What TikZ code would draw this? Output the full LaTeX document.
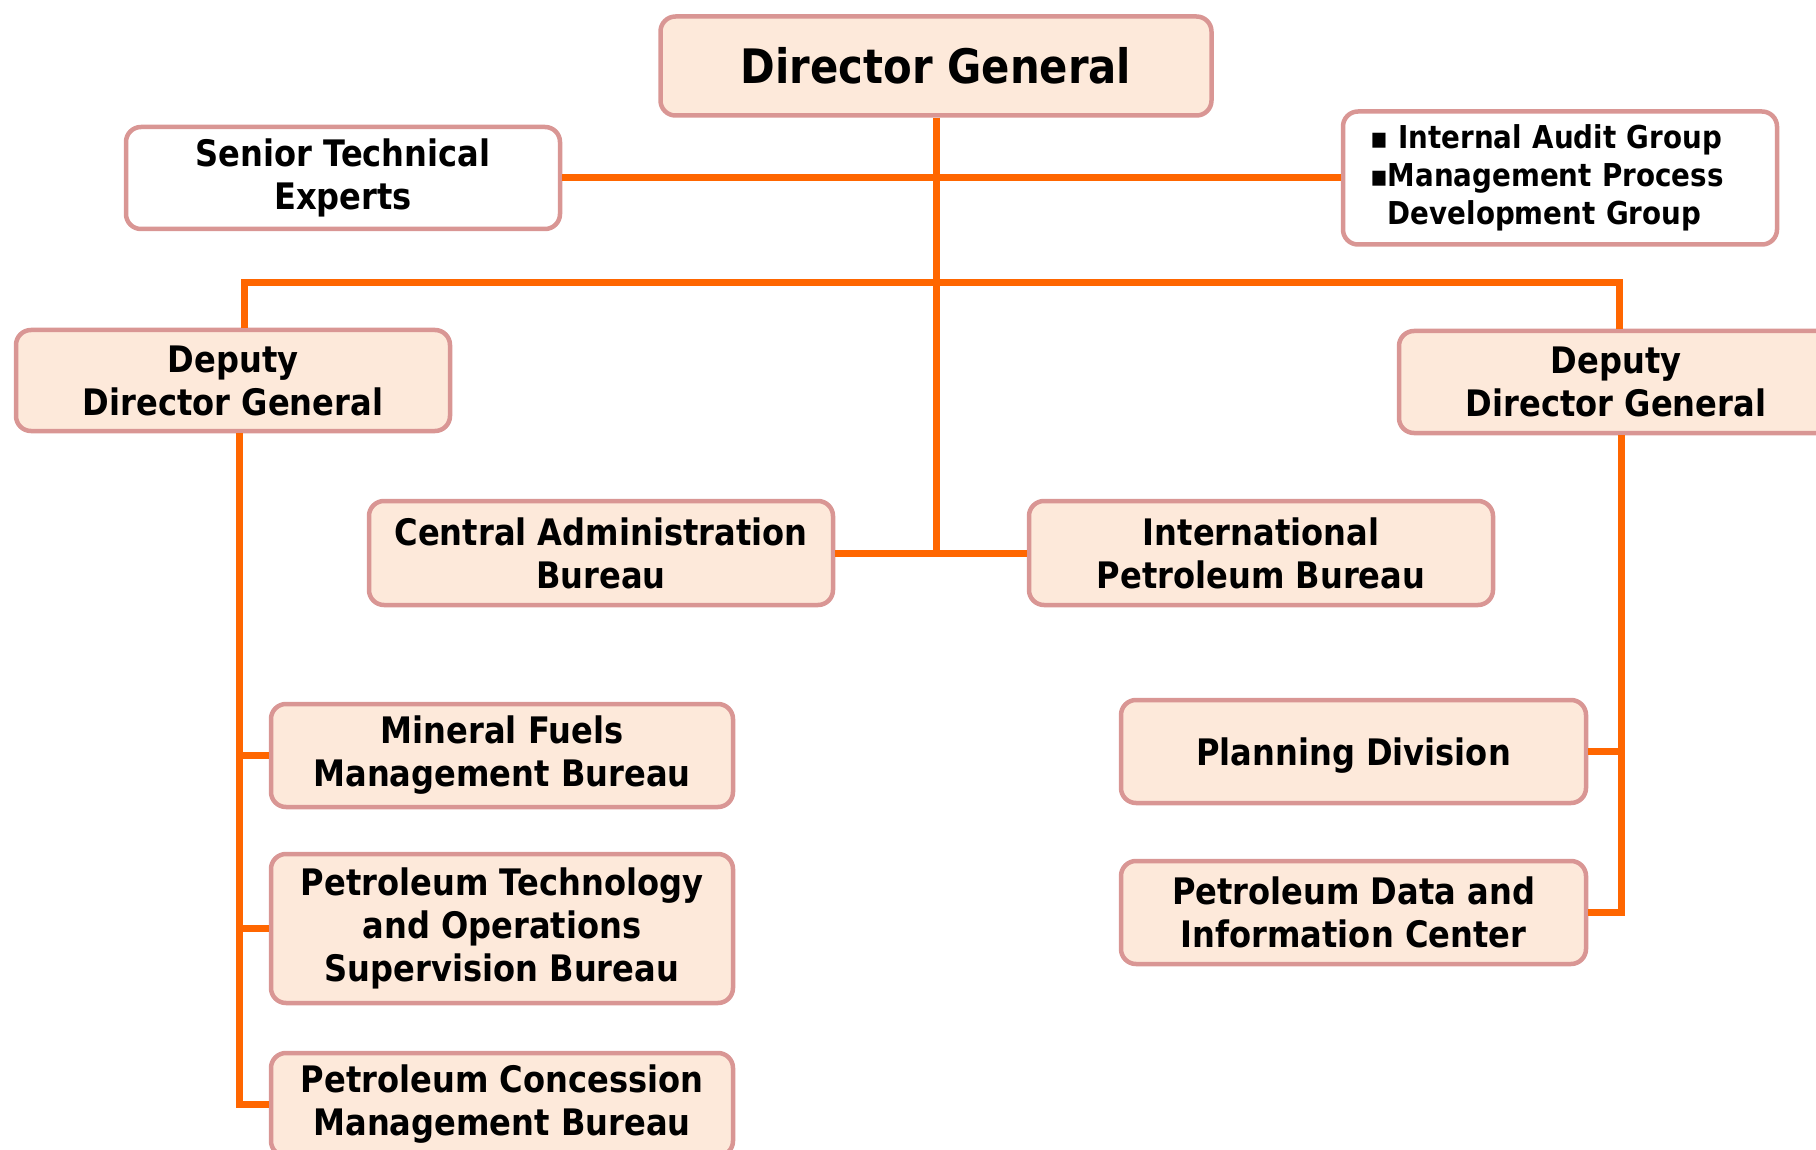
\documentclass[tikz,border=0pt]{standalone}
\usepackage{fontspec}
\setmainfont{DejaVu Sans}[FakeStretch=0.88]
\usepackage{xcolor}
\usetikzlibrary{positioning, calc}

\definecolor{boxfill}{RGB}{253,233,218}
\definecolor{boxline}{RGB}{217,150,148}
\definecolor{linkorange}{RGB}{255,102,0}

\newcommand{\sqbullet}{\fontsize{30}{38}\selectfont▪\fontsize{31.5}{38}\selectfont}

\begin{document}
\begin{tikzpicture}[x=1pt, y=-1pt,
    unit/.style={draw=boxline, line width=4.5pt, fill=boxfill, rounded corners=15pt,
        minimum width=462pt, minimum height=103pt, align=center, inner sep=0pt,
        font=\fontsize{36.5}{43}\selectfont\bfseries},
    plainunit/.style={unit, fill=white},
    link/.style={draw=linkorange, line width=7pt}]
    % fix the page to the picture size
    \useasboundingbox (0,0) rectangle (1816,1150);
    \clip (0,0) rectangle (1816,1150);

    % Top level
    \node[unit, minimum width=551pt, minimum height=99pt,
        font=\fontsize{47.5}{56}\selectfont\bfseries] (dg) at (936,66) {Director General};
    \node[plainunit, minimum width=434pt, minimum height=102pt] (ste) at (343,178)
        {Senior Technical\\Experts};
    \node[plainunit, minimum width=434pt, minimum height=133pt, align=left, text width=380pt,
        font=\fontsize{31.5}{38}\selectfont\bfseries] (iag) at (1560,178)
        {\sqbullet\ Internal Audit Group\\
         \sqbullet Management Process\\
         \phantom{\sqbullet}Development Group};

    % Deputies
    \node[unit, minimum width=434pt, minimum height=101pt] (ddl) at (233,380.5)
        {Deputy\\Director General};
    \node[unit, minimum width=434pt, minimum height=102pt] (ddr) at (1616,382)
        {Deputy\\Director General};

    % Bureaus under the director general
    \node[unit, minimum width=464pt, minimum height=104pt] (cab) at (601,553)
        {Central Administration\\Bureau};
    \node[unit, minimum width=464pt, minimum height=104pt] (ipb) at (1261,553)
        {International\\Petroleum Bureau};

    % Left deputy branch
    \node[unit] (mfm) at (502,755.5) {Mineral Fuels\\Management Bureau};
    \node[unit, minimum height=149pt] (ptos) at (502,928.5)
        {Petroleum Technology\\and Operations\\Supervision Bureau};
    \node[unit] (pcm) at (502,1104.5) {Petroleum Concession\\Management Bureau};

    % Right deputy branch
    \node[unit, minimum width=465pt, text depth=0pt] (pd) at (1353.5,751.5) {Planning Division};
    \node[unit, minimum width=465pt] (pdic) at (1353.5,912.5)
        {Petroleum Data and\\Information Center};

    % Connectors
    \coordinate (bar) at (936,283);
    \coordinate (ltop) at ([xshift=11pt]ddl.north);
    \coordinate (lbot) at ([xshift=6pt]ddl.south);
    \coordinate (rtop) at ([xshift=3pt]ddr.north);
    \coordinate (rbot) at ([xshift=5pt]ddr.south);
    \draw[link] (dg.south) -- (dg.south |- cab.east);
    \draw[link] (cab.east) -- (ipb.west);
    \draw[link] (ste.east) -- (iag.west);
    \draw[link] (ltop) |- (bar) -| (rtop);
    \draw[link] (lbot) |- (pcm.west);
    \foreach \n in {mfm, ptos}
        \draw[link] (\n.west) -- (lbot |- \n.west);
    \draw[link] (rbot) |- (pdic.east);
    \draw[link] (pd.east) -- (rbot |- pd.east);
\end{tikzpicture}
\end{document}
